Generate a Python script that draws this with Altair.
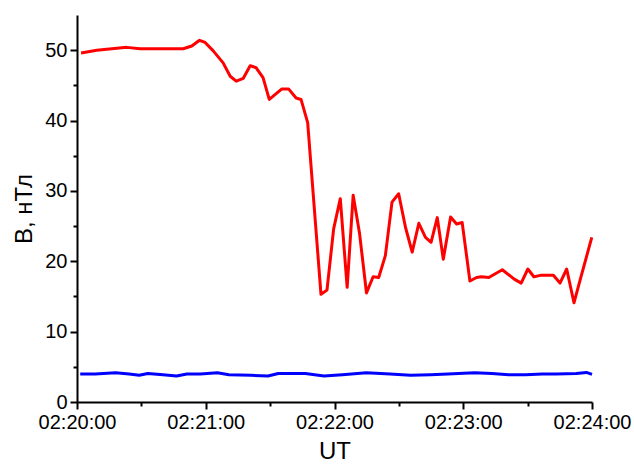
import altair as alt
import pandas as pd

# Seconds after 02:20:00 UT and field magnitude (nT) for each trace
red_t = [1.9, 9.2, 23.2, 29.4, 49.5, 53.5, 57.1, 59.7, 63.5, 68.1, 71.4, 74.2,
         77.5, 80.7, 83.5, 86.7, 89.6, 95.5, 98.6, 102.1, 104.4, 107.5, 113.7,
         116.5, 119.6, 122.7, 125.9, 128.7, 131.7, 134.9, 138.0, 140.6, 143.7,
         146.8, 149.9, 153.1, 156.2, 159.3, 162.4, 165.0, 167.9, 170.7, 174.1,
         176.9, 179.5, 183.1, 186.2, 188.4, 191.9, 198.2, 203.6, 207.0, 210.1,
         212.9, 216.0, 222.0, 225.1, 228.2, 231.6, 234.7, 239.9]
red_b = [49.6, 50.0, 50.4, 50.2, 50.2, 50.6, 51.4, 51.1, 49.9, 48.2, 46.3, 45.6,
         46.0, 47.8, 47.5, 46.1, 43.0, 44.5, 44.5, 43.2, 43.0, 39.7, 15.3,
         15.9, 24.6, 28.9, 16.3, 29.4, 23.9, 15.5, 17.8, 17.7, 20.8,
         28.4, 29.6, 24.8, 21.3, 25.4, 23.4, 22.7, 26.2, 20.3, 26.3,
         25.3, 25.5, 17.2, 17.7, 17.8, 17.7, 18.8, 17.5, 16.9, 18.9,
         17.8, 18.0, 18.0, 16.9, 18.9, 14.1, 17.6, 23.4]

blue_t = [1.5, 8.5, 18.0, 24.3, 29.0, 33.0, 40.1, 46.4, 51.2, 57.5, 65.4, 70.8,
          81.1, 89.0, 93.8, 106.4, 115.1, 123.7, 134.8, 145.9, 155.4, 164.8,
          172.8, 185.3, 193.3, 201.2, 209.0, 216.9, 223.2, 232.7, 237.4, 240.0]
blue_b = [3.97, 3.97, 4.15, 3.97, 3.80, 4.06, 3.87, 3.70, 3.97, 3.97, 4.15, 3.87,
          3.80, 3.70, 4.06, 4.06, 3.70, 3.87, 4.15, 3.97, 3.80, 3.87,
          3.97, 4.15, 4.06, 3.87, 3.87, 3.97, 3.97, 4.06, 4.20, 3.92]


def stamp(sec):
    m = int(sec // 60)
    s = sec - 60 * m
    return f"2000-01-01T02:{20 + m:02d}:{s:06.3f}"


df = pd.concat([
    pd.DataFrame({"time": [stamp(t) for t in red_t], "B": red_b, "series": "total"}),
    pd.DataFrame({"time": [stamp(t) for t in blue_t], "B": blue_b, "series": "quiet"}),
])


def dt(m, s=0):
    return alt.DateTime(year=2000, month=1, date=1, hours=2, minutes=m, seconds=s)


x_ticks = [dt(20 + i // 2, 30 * (i % 2)) for i in range(9)]
y_ticks = list(range(0, 55, 5))

FONT = "Liberation Sans"

x_axis = alt.Axis(
    values=x_ticks,
    format="%H:%M:%S",
    labelExpr="seconds(datum.value) === 0 ? timeFormat(datum.value, '%H:%M:%S') : ''",
    tickSize={"condition": {"test": "seconds(datum.value) === 0", "value": 7}, "value": 4},
    title="UT",
    titleFontSize=24,
    titlePadding=7,
    labelPadding=3,
    labelFlush=False,
    labelOverlap=False,
)
y_axis = alt.Axis(
    values=y_ticks,
    labelExpr="datum.value % 10 === 0 ? datum.label : ''",
    tickSize={"condition": {"test": "datum.value % 10 === 0", "value": 7}, "value": 4},
    title="B, нТл",
    titleFontSize=24,
    titlePadding=8,
    labelPadding=3,
    labelOverlap=False,
)

chart = (
    alt.Chart(df)
    .mark_line(strokeWidth=3, strokeJoin="round")
    .encode(
        x=alt.X("time:T", axis=x_axis,
                scale=alt.Scale(domain=[dt(20), dt(24)], nice=False)),
        y=alt.Y("B:Q", axis=y_axis, scale=alt.Scale(domain=[0, 55], nice=False)),
        color=alt.Color("series:N", legend=None,
                        scale=alt.Scale(domain=["total", "quiet"],
                                        range=["#ff0000", "#0000ff"])),
        detail="series:N",
    )
    .properties(
        width=515,
        height=387,
        autosize=alt.AutoSizeParams(type="none"),
        padding={"left": 77, "top": 15, "right": 42, "bottom": 64},
    )
    .configure_view(stroke=None)
    .configure_axis(
        grid=False,
        domainColor="black",
        domainWidth=2,
        tickColor="black",
        tickWidth=2,
        labelFont=FONT,
        labelFontSize=20,
        labelColor="black",
        titleFont=FONT,
        titleFontWeight="normal",
        titleColor="black",
    )
)

chart.save("out.html", embed_options={"renderer": "svg", "actions": False})
